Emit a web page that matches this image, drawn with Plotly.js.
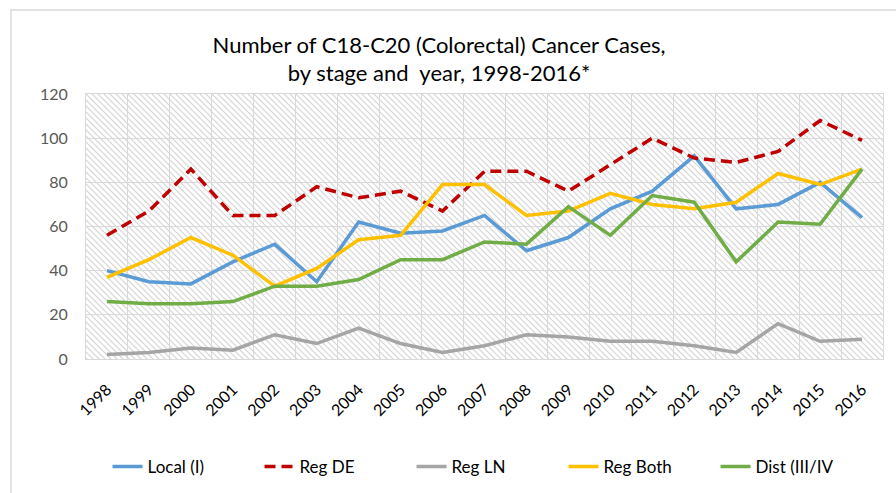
<!DOCTYPE html>
<html>
<head>
<meta charset="utf-8">
<script src="https://cdn.plot.ly/plotly-3.0.1.min.js"></script>
<style>html,body{margin:0;padding:0;background:#fff;}#chart{width:896px;height:493px;}</style>
</head>
<body>
<div id="chart"></div>
<script>
const years = ["1998","1999","2000","2001","2002","2003","2004","2005","2006","2007","2008","2009","2010","2011","2012","2013","2014","2015","2016"];
const localI  = [40,35,34,44,52,35,62,57,58,65,49,55,68,76,92,68,70,80,64];
const regDE   = [56,67,86,65,65,78,73,76,67,85,85,76,88,100,91,89,94,108,99];
const regLN   = [2,3,5,4,11,7,14,7,3,6,11,10,8,8,6,3,16,8,9];
const regBoth = [37,45,55,47,33,41,54,56,79,79,65,67,75,70,68,71,84,79,86];
const distIV  = [26,25,25,26,33,33,36,45,45,53,52,69,56,74,71,44,62,61,86];

const font = "Lato, 'Noto Sans', sans-serif";
function tr(name, y, color, dash) {
  return {type:'scatter', mode:'lines', name:name, x:years, y:y,
    line:{color:color, width:3.5, dash:dash||'solid'}, hoverinfo:'x+y+name'};
}
const data = [
  tr('Local (I)', localI, '#5B9BD5'),
  tr('Reg DE', regDE, '#C00000', '11px,6px'),
  tr('Reg LN', regLN, '#A5A5A5'),
  tr('Reg Both', regBoth, '#FFC000'),
  tr('Dist (III/IV', distIV, '#70AD47')
];

const pw = 797, ph = 265;
const svg = `<svg xmlns="http://www.w3.org/2000/svg" width="${pw}" height="${ph}" viewBox="0 0 ${pw} ${ph}"><defs><pattern id="p" patternUnits="userSpaceOnUse" width="6" height="6"><path d="M-1,-1 L7,7 M-7,-1 L1,7 M5,-1 L13,7" stroke="#d4d4d4" stroke-width="1.2"/></pattern></defs><rect width="${pw}" height="${ph}" fill="url(#p)"/></svg>`;
const src = 'data:image/svg+xml;base64,' + btoa(svg);

const layout = {
  width:896, height:493,
  margin:{l:86, r:13, t:94, b:134},
  paper_bgcolor:'#ffffff',
  plot_bgcolor:'rgba(0,0,0,0)',
  font:{family:font, color:'#595959'},
  title:{text:'Number of C18-C20 (Colorectal) Cancer Cases,<br>by stage and  year, 1998-2016*',
    font:{family:font, size:22, color:'#000000'}, x:0.49, xanchor:'center', y:0.893, yanchor:'top', yref:'container'},
  xaxis:{type:'category', tickson:'boundaries', ticks:'', showgrid:true, gridcolor:'#d9d9d9', gridwidth:1,
    tickangle:-45, tickfont:{size:16, color:'#000000'}, ticklabelstandoff:14, automargin:false,
    showline:true, linecolor:'#d9d9d9', linewidth:1, mirror:true,
    range:[-0.5,18.5], fixedrange:true},
  yaxis:{range:[0,120], dtick:20, showgrid:true, gridcolor:'#d9d9d9', gridwidth:1, zeroline:false, automargin:false,
    tickfont:{size:16, color:'#595959'}, ticklabelstandoff:14, showline:true, linecolor:'#d9d9d9', mirror:true, ticks:'', fixedrange:true},
  legend:{orientation:'h', x:0.027, xanchor:'left', yref:'container', y:1 - 467/493, yanchor:'middle', entrywidth:107,
    font:{family:font, size:17, color:'#000000'}, bgcolor:'rgba(0,0,0,0)'},
  images:[{source:src, xref:'paper', yref:'paper', x:0, y:1, sizex:1, sizey:1, sizing:'stretch', xanchor:'left', yanchor:'top', layer:'below'}],
  shapes:[{type:'rect', xref:'paper', yref:'paper', x0:-75/797, x1:815/797, y0:-140/265, y1:(359-10)/265, line:{color:'#d9d9d9', width:1.5}, fillcolor:'rgba(0,0,0,0)', layer:'below'}]
};
Plotly.newPlot('chart', data, layout, {displayModeBar:false, staticPlot:true});
</script>
</body>
</html>
